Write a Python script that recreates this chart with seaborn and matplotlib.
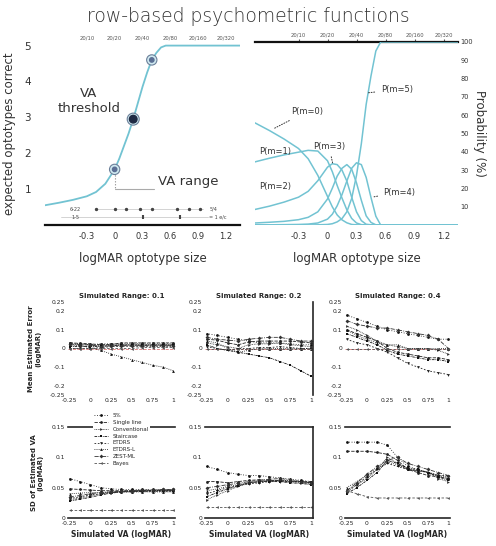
import numpy as np
import pandas as pd
import matplotlib
matplotlib.use('Agg')
import matplotlib.pyplot as plt
from matplotlib.lines import Line2D
import seaborn as sns

# ---------------- data ----------------
curve_x = [-0.75, -0.6, -0.45, -0.3, -0.2, -0.1, 0.0, 0.05, 0.1, 0.15, 0.2, 0.25,
           0.3, 0.35, 0.4, 0.45, 0.5, 0.55, 1.35]
curve_expected = [0.55, 0.62, 0.70, 0.80, 0.92, 1.15, 1.55, 1.85, 2.2, 2.55, 2.95, 3.4,
                  3.85, 4.25, 4.6, 4.8, 4.95, 5.0, 5.0]
key_x = [0.0, 0.2, 0.4]
key_y = [1.55, 2.95, 4.6]

prob_m0 = [55.8, 51.6, 47.0, 41.8, 36.2, 27.1, 15.6, 9.9, 5.5, 2.8, 1.2, 0.3, 0.1, 0, 0, 0, 0, 0, 0]
prob_m1 = [34.5, 36.5, 38.3, 39.8, 40.8, 40.4, 35.1, 29.1, 21.6, 14.7, 8.3, 3.6, 1.1, 0.2, 0, 0, 0, 0, 0]
prob_m2 = [8.5, 10.3, 12.5, 15.2, 18.4, 24.2, 31.6, 33.5, 33.0, 30.0, 24.0, 15.2, 7.2, 2.4, 0.4, 0.1, 0, 0, 0]
prob_m3 = [1.1, 1.5, 2.0, 2.9, 4.2, 7.2, 14.2, 20.1, 26.7, 31.0, 33.0, 30.5, 23.0, 13.5, 5.0, 1.4, 0.1, 0, 0]
prob_m4 = [0.1, 0.1, 0.2, 0.3, 0.5, 1.1, 3.2, 5.9, 10.5, 16.6, 24.0, 31.0, 34.0, 33.0, 26.0, 15.0, 4.8, 0, 0]
prob_m5 = [0, 0, 0, 0, 0, 0.1, 0.3, 0.7, 1.7, 3.5, 7.2, 14.5, 27.1, 44.4, 65.9, 81.5, 95.1, 100, 100]
prob_labels = ['P(m=0)', 'P(m=1)', 'P(m=2)', 'P(m=3)', 'P(m=4)', 'P(m=5)']

chart_rows_x = [-0.2, 0.0, 0.12, 0.27, 0.4, 0.67, 0.8, 0.92]
chart_lines_x = [0.3, 0.7]

logmar_ticks = [-0.3, 0.0, 0.3, 0.6, 0.9, 1.2]
logmar_labels = ['-0.3', '0', '0.3', '0.6', '0.9', '1.2']
snellen_labels = ['20/10', '20/20', '20/40', '20/80', '20/160', '20/320']

sim_x = [-0.25, -0.125, 0.0, 0.125, 0.25, 0.375, 0.5, 0.625, 0.75, 0.875, 1.0]
methods = ['5%', 'Single line', 'Conventional', 'Staircase', 'ETDRS', 'ETDRS-L', 'ZEST-ML', 'Bayes']
ranges = ['0.1', '0.2', '0.4']

bias_01 = [
    [0.03, 0.025, 0.02, 0.025, 0.025, 0.025, 0.025, 0.025, 0.025, 0.025, 0.025],
    [0.03, 0.028, 0.025, 0.02, 0.022, 0.03, 0.03, 0.03, 0.03, 0.03, 0.03],
    [0.02, 0.02, 0.018, 0.015, 0.02, 0.022, 0.022, 0.022, 0.022, 0.022, 0.022],
    [0.01, 0.012, 0.01, 0.012, 0.015, 0.018, 0.018, 0.018, 0.018, 0.018, 0.018],
    [0.0, 0.0, 0.0, 0.005, 0.01, 0.012, 0.012, 0.012, 0.012, 0.012, 0.012],
    [0.02, 0.015, 0.005, -0.01, -0.03, -0.045, -0.06, -0.075, -0.09, -0.1, -0.12],
    [0.025, 0.02, 0.02, 0.01, 0.015, 0.015, 0.015, 0.015, 0.015, 0.015, 0.015],
    [0.0, 0.0, 0.0, 0.0, 0.0, 0.0, 0.0, 0.005, 0.005, 0.005, 0.005],
]
bias_02 = [
    [0.08, 0.07, 0.06, 0.05, 0.04, 0.03, 0.03, 0.03, 0.025, 0.02, 0.02],
    [0.05, 0.045, 0.03, 0.02, 0.035, 0.04, 0.04, 0.04, 0.04, 0.035, 0.03],
    [0.03, 0.02, 0.01, 0.0, 0.02, 0.025, 0.025, 0.03, 0.02, 0.015, 0.01],
    [0.02, 0.0, -0.01, -0.02, -0.03, -0.04, -0.05, -0.07, -0.09, -0.12, -0.15],
    [0.01, 0.0, -0.01, 0.0, 0.0, 0.005, 0.005, 0.01, 0.005, 0.0, 0.0],
    [0.04, 0.03, 0.0, -0.02, -0.01, 0.0, 0.0, 0.0, 0.0, 0.0, 0.0],
    [0.06, 0.05, 0.045, 0.04, 0.05, 0.055, 0.06, 0.06, 0.05, 0.04, 0.04],
    [0.0, 0.0, 0.0, 0.0, 0.0, 0.0, 0.0, 0.0, 0.0, 0.0, 0.0],
]
bias_04 = [
    [0.18, 0.16, 0.14, 0.12, 0.1, 0.09, 0.08, 0.07, 0.06, 0.05, 0.05],
    [0.1, 0.08, 0.06, 0.04, 0.0, -0.02, -0.03, -0.04, -0.05, -0.05, -0.06],
    [0.12, 0.1, 0.07, 0.04, 0.02, 0.01, 0.0, 0.0, 0.0, -0.01, -0.03],
    [0.08, 0.06, 0.04, 0.02, -0.01, -0.03, -0.04, -0.05, -0.06, -0.06, -0.07],
    [0.05, 0.03, 0.02, 0.0, -0.02, -0.05, -0.08, -0.1, -0.12, -0.13, -0.14],
    [0.1, 0.07, 0.05, 0.03, 0.02, 0.02, 0.0, 0.0, 0.0, 0.0, 0.0],
    [0.15, 0.13, 0.12, 0.11, 0.11, 0.1, 0.09, 0.08, 0.07, 0.05, 0.0],
    [0.0, 0.0, 0.0, 0.0, 0.0, 0.0, 0.0, 0.0, 0.0, 0.0, 0.0],
]
sd_01 = [
    [0.065, 0.06, 0.055, 0.05, 0.048, 0.047, 0.047, 0.047, 0.047, 0.047, 0.047],
    [0.048, 0.047, 0.046, 0.045, 0.045, 0.045, 0.045, 0.045, 0.045, 0.045, 0.045],
    [0.03, 0.033, 0.036, 0.04, 0.042, 0.044, 0.045, 0.045, 0.045, 0.046, 0.046],
    [0.028, 0.031, 0.034, 0.038, 0.041, 0.043, 0.044, 0.044, 0.045, 0.045, 0.045],
    [0.032, 0.035, 0.038, 0.04, 0.042, 0.043, 0.043, 0.044, 0.044, 0.044, 0.044],
    [0.04, 0.041, 0.042, 0.042, 0.043, 0.043, 0.043, 0.043, 0.043, 0.043, 0.043],
    [0.035, 0.037, 0.04, 0.042, 0.043, 0.044, 0.045, 0.046, 0.046, 0.047, 0.047],
    [0.013, 0.013, 0.013, 0.013, 0.013, 0.013, 0.013, 0.013, 0.013, 0.013, 0.013],
]
sd_02 = [
    [0.085, 0.08, 0.075, 0.072, 0.07, 0.07, 0.068, 0.066, 0.064, 0.062, 0.06],
    [0.06, 0.06, 0.058, 0.06, 0.062, 0.063, 0.062, 0.062, 0.06, 0.06, 0.058],
    [0.03, 0.038, 0.045, 0.052, 0.057, 0.06, 0.062, 0.062, 0.06, 0.058, 0.056],
    [0.035, 0.042, 0.048, 0.053, 0.058, 0.06, 0.06, 0.06, 0.058, 0.057, 0.055],
    [0.04, 0.045, 0.05, 0.054, 0.056, 0.058, 0.06, 0.06, 0.06, 0.06, 0.06],
    [0.045, 0.048, 0.052, 0.055, 0.058, 0.06, 0.061, 0.062, 0.062, 0.06, 0.058],
    [0.05, 0.052, 0.055, 0.057, 0.06, 0.062, 0.064, 0.065, 0.063, 0.06, 0.058],
    [0.018, 0.018, 0.018, 0.018, 0.018, 0.018, 0.018, 0.018, 0.018, 0.018, 0.018],
]
sd_04 = [
    [0.125, 0.125, 0.125, 0.125, 0.12, 0.1, 0.085, 0.08, 0.075, 0.07, 0.065],
    [0.11, 0.11, 0.11, 0.108, 0.105, 0.095, 0.08, 0.075, 0.07, 0.068, 0.065],
    [0.045, 0.055, 0.065, 0.08, 0.1, 0.09, 0.08, 0.078, 0.075, 0.065, 0.06],
    [0.04, 0.05, 0.062, 0.075, 0.095, 0.09, 0.082, 0.08, 0.075, 0.068, 0.062],
    [0.042, 0.055, 0.068, 0.08, 0.09, 0.085, 0.08, 0.078, 0.075, 0.07, 0.07],
    [0.05, 0.06, 0.07, 0.082, 0.092, 0.088, 0.08, 0.078, 0.076, 0.07, 0.068],
    [0.045, 0.058, 0.072, 0.085, 0.095, 0.1, 0.09, 0.085, 0.08, 0.075, 0.07],
    [0.045, 0.04, 0.035, 0.033, 0.033, 0.033, 0.033, 0.033, 0.033, 0.033, 0.033],
]

# ---------------- style ----------------
sns.set_style('white')
plt.rcParams['font.family'] = ['DejaVu Sans']
curve_col = '#72c3d2'
dark = '#1f2a44'

fig = plt.figure(figsize=(4.96, 5.46), dpi=100)
W, H = 496.0, 546.0

def axes_px(x0, y0, x1, y1):
    return fig.add_axes([x0 / W, 1 - y1 / H, (x1 - x0) / W, (y1 - y0) / H])

fig.text(0.5, 1 - 16 / H, 'row-based psychometric functions', ha='center', va='center',
         fontsize=13.5, fontweight='light', color='#333')

# ---------- top left ----------
axL = axes_px(45, 42, 240, 225)
dfc = pd.DataFrame({'x': curve_x, 'y': curve_expected})
sns.lineplot(data=dfc, x='x', y='y', ax=axL, color=curve_col, linewidth=1.3)
axL.set_xlim(-0.75, 1.35)
axL.set_ylim(0, 5.1)
for s in ['top', 'right', 'left']:
    axL.spines[s].set_visible(False)
axL.spines['bottom'].set_linewidth(1.6)
axL.spines['bottom'].set_color('#111')
axL.set_xticks(logmar_ticks)
axL.set_xticklabels(logmar_labels)
axL.set_yticks([1, 2, 3, 4, 5])
axL.tick_params(axis='x', labelsize=6, length=0, pad=5, colors='#333')
axL.tick_params(axis='y', labelsize=7.5, length=0, pad=10, colors='#333')
axL.set_xlabel('logMAR optotype size', fontsize=8.5, color='#333', labelpad=8)
axL.set_ylabel('expected optotypes correct', fontsize=8.5, color='#333', labelpad=6)
topL = axL.secondary_xaxis('top')
topL.set_xticks(logmar_ticks)
topL.set_xticklabels(snellen_labels)
topL.tick_params(labelsize=3.8, length=0, pad=1, colors='#555')
topL.spines['top'].set_visible(False)
# key points
axL.scatter(key_x, key_y, s=[55, 75, 55], facecolor='#cfe9f0', edgecolor='#6b7f99', linewidth=0.8, zorder=4)
axL.scatter(key_x, key_y, s=[10, 30, 10], color=['#5b6f94', dark, '#5b6f94'], zorder=5)
axL.text(-0.28, 3.45, 'VA\nthreshold', ha='center', va='center', fontsize=9.5, color='#333', linespacing=1.15)
axL.plot([key_x[0], key_x[0]], [key_y[0], 1.0], color='#888', linestyle=':', linewidth=0.8)
axL.plot([key_x[0], 0.42], [1.0, 1.0], color='#aaa', linewidth=0.8)
axL.text(0.47, 1.2, 'VA range', ha='left', va='center', fontsize=9.5, color='#333')
# chart row markers
axL.plot([-0.2, 0.95], [0.44, 0.44], color='#ccc', linewidth=0.6)
axL.scatter(chart_rows_x, [0.44] * len(chart_rows_x), s=2, color='#444', zorder=3)
axL.plot([-0.58, 1.0], [0.22, 0.22], color='#ccc', linewidth=0.6)
axL.scatter(chart_lines_x, [0.22] * len(chart_lines_x), s=6, marker='|', color='#444', zorder=3)
axL.text(-0.42, 0.44, '6-22', fontsize=3.5, va='center', ha='center', color='#444')
axL.text(-0.42, 0.22, '1-5', fontsize=3.5, va='center', ha='center', color='#444')
axL.text(1.02, 0.44, '5/4', fontsize=3.5, va='center', ha='left', color='#444')
axL.text(1.02, 0.22, '= 1 e/c', fontsize=3.5, va='center', ha='left', color='#444')

# ---------- top right ----------
axR = axes_px(255, 42, 458, 225)
rows = []
for lab, vals in zip(prob_labels, [prob_m0, prob_m1, prob_m2, prob_m3, prob_m4, prob_m5]):
    for xv, yv in zip(curve_x, vals):
        rows.append({'x': xv, 'y': yv, 'm': lab})
dfp = pd.DataFrame(rows)
sns.lineplot(data=dfp, x='x', y='y', hue='m', palette=[curve_col] * 6, ax=axR, legend=False, linewidth=1.1)
axR.set_xlim(-0.75, 1.35)
axR.set_ylim(0, 100)
for s in ['bottom', 'right', 'left', 'top']:
    axR.spines[s].set_visible(False)
axR.set_xticks(logmar_ticks)
axR.set_xticklabels(logmar_labels)
axR.tick_params(axis='x', labelsize=6, length=0, pad=5, colors='#333')
axR.yaxis.tick_right()
axR.set_yticks(list(range(10, 101, 10)))
axR.tick_params(axis='y', labelsize=4.8, length=0, pad=2, colors='#333')
axR.yaxis.set_label_position('right')
axR.set_ylabel('Probability (%)', fontsize=8.5, color='#333', rotation=270, labelpad=9)
axR.set_xlabel('logMAR optotype size', fontsize=8.5, color='#333', labelpad=8)
topR = axR.secondary_xaxis('top')
topR.set_xticks(logmar_ticks)
topR.set_xticklabels(snellen_labels)
topR.tick_params(labelsize=3.8, length=2, pad=1, colors='#555')
topR.spines['top'].set_linewidth(1.6)
topR.spines['top'].set_color('#111')
ann = dict(arrowstyle='-', linestyle=':', color='#333', lw=0.7)
axR.annotate('P(m=0)', xy=(-0.58, 52), xytext=(-0.38, 62), fontsize=6, color='#333', arrowprops=ann, va='center')
axR.text(-0.71, 40, 'P(m=1)', fontsize=6, color='#333', va='center')
axR.text(-0.71, 21, 'P(m=2)', fontsize=6, color='#333', va='center')
axR.annotate('P(m=3)', xy=(0.06, 32), xytext=(-0.15, 43), fontsize=6, color='#333', arrowprops=ann, va='center')
axR.annotate('P(m=4)', xy=(0.44, 15), xytext=(0.58, 18), fontsize=6, color='#333', arrowprops=ann, va='center')
axR.annotate('P(m=5)', xy=(0.38, 72), xytext=(0.55, 74), fontsize=6, color='#333', arrowprops=ann, va='center')

# ---------- bottom grid ----------
markers = {m: k for m, k in zip(methods, ['o', 'o', '>', 's', 'v', '^', 'D', '<'])}
dashes = {m: d for m, d in zip(methods, [(1, 2), (4, 1.5), (1, 1), (3, 1, 1, 1), (2, 2), (1, 1.5), (5, 1.5, 1, 1.5), (3, 2)])}
greys = {m: c for m, c in zip(methods, ['#111', '#222', '#333', '#111', '#222', '#111', '#333', '#555'])}

col_px = [(68, 175), (205, 313), (345, 450)]
panels = [[bias_01, bias_02, bias_04], [sd_01, sd_02, sd_04]]
row_px = [(302, 395), (427, 518)]

def to_df(block):
    rr = []
    for m, vals in zip(methods, block):
        for xv, yv in zip(sim_x, vals):
            rr.append({'x': xv, 'y': yv, 'method': m})
    return pd.DataFrame(rr)

for r in range(2):
    for c in range(3):
        x0, x1 = col_px[c]
        y0, y1 = row_px[r]
        ax = axes_px(x0, y0, x1, y1)
        if r == 0:
            ax.axhline(0, color='#e07a7a', linestyle='--', linewidth=0.6, zorder=0)
        sns.lineplot(data=to_df(panels[r][c]), x='x', y='y', hue='method', style='method',
                     palette=greys, markers=markers, dashes=dashes, markersize=2,
                     markeredgewidth=0, linewidth=0.6, ax=ax, legend=False)
        ax.set_xlim(-0.27, 1.02)
        ax.set_xticks([-0.25, 0, 0.25, 0.5, 0.75, 1])
        ax.set_xticklabels(['-0.25', '0', '0.25', '0.5', '0.75', '1'])
        ax.tick_params(labelsize=4.3, length=0, pad=2, colors='#222')
        for s in ['top', 'right', 'left', 'bottom']:
            ax.spines[s].set_visible(False)
        if r == 0:
            ax.set_ylim(-0.25, 0.25)
            ax.set_yticks([-0.25, -0.2, -0.1, 0, 0.1, 0.2, 0.25])
            ax.set_yticklabels(['-0.25', '-0.2', '-0.1', '0', '0.1', '0.2', '0.25'])
            ax.set_title('Simulated Range: ' + ranges[c], fontsize=5, fontweight='bold', pad=3)
            ax.set_xlabel('')
            if c == 1:
                ax.spines['right'].set_visible(True)
                ax.spines['right'].set_linewidth(1.2)
        else:
            ax.set_ylim(0, 0.15)
            ax.set_yticks([0, 0.05, 0.1, 0.15])
            ax.set_yticklabels(['0', '0.05', '0.1', '0.15'])
            ax.spines['top'].set_visible(True)
            ax.spines['bottom'].set_visible(True)
            ax.spines['top'].set_linewidth(1.2)
            ax.spines['bottom'].set_linewidth(1.2)
            if c == 1:
                ax.spines['right'].set_visible(True)
                ax.spines['right'].set_linewidth(1.2)
            ax.set_xlabel('Simulated VA (logMAR)', fontsize=5.5, fontweight='bold', labelpad=3)
        if c == 0:
            ax.set_ylabel('Mean Estimated Error\n(logMAR)' if r == 0 else 'SD of Estimated VA\n(logMAR)',
                          fontsize=5, fontweight='bold', labelpad=6)
        else:
            ax.set_ylabel('')
        if r == 1 and c == 0:
            handles = [Line2D([0], [0], color=greys[m], marker=markers[m], markersize=2,
                              markeredgewidth=0, linewidth=0.6, dashes=dashes[m]) for m in methods]
            leg = ax.legend(handles, methods, fontsize=4, loc='upper center',
                            bbox_to_anchor=(0.5, 1.2), frameon=True, edgecolor='none',
                            framealpha=1, handlelength=2.5, labelspacing=0.35, borderpad=0.2)
            leg.set_zorder(10)

fig.savefig('out.png', dpi=100)
